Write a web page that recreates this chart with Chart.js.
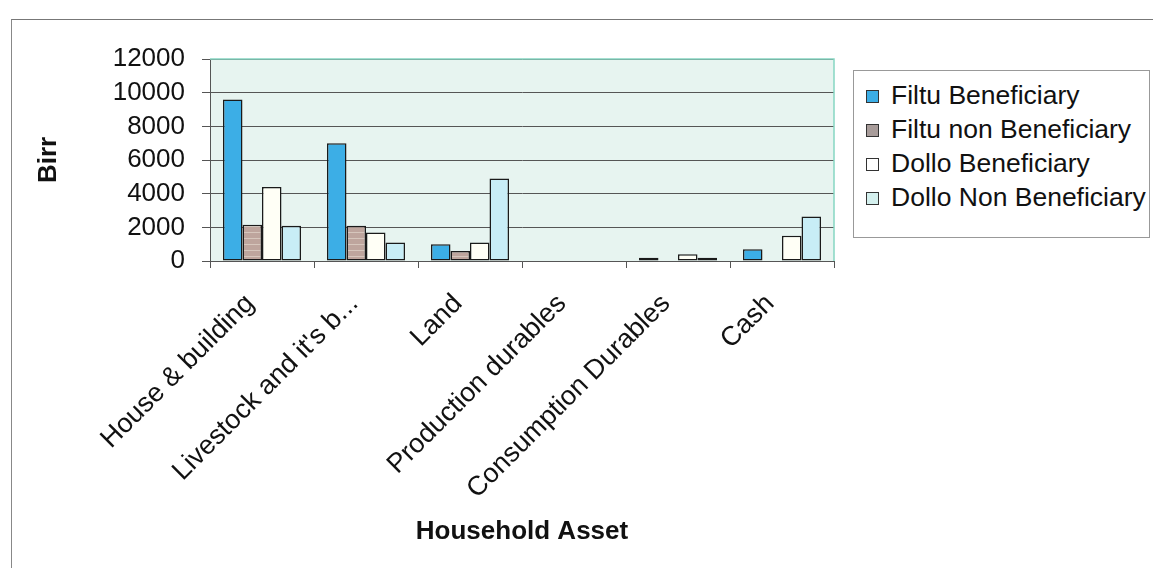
<!DOCTYPE html>
<html>
<head>
<meta charset="utf-8">
<script src="https://cdn.jsdelivr.net/npm/chart.js@4/dist/chart.umd.min.js"></script>
<style>
  body { margin: 0; background: #fff; font-family: "Liberation Sans", Arial, sans-serif; }
  #wrap { position: relative; width: 1153px; height: 568px; overflow: hidden; }
  #frame { position: absolute; left: 11px; top: 19px; right: 0; bottom: 0;
           border-top: 1px solid #777; border-left: 1px solid #888; }
  #chart { position: absolute; left: 0; top: 0; }
  #legend { position: absolute; left: 853px; top: 70px; width: 297px; height: 168px;
            border: 1px solid #999; box-sizing: border-box; background: #fff; }
  .item { position: absolute; left: 12px; font-size: 26.5px; color: #111; white-space: nowrap; line-height: 30px; }
  .sw { display: inline-block; width: 11px; height: 11px; border: 1px solid #333;
        margin-right: 12px; vertical-align: 1px; }
</style>
</head>
<body>
<div id="wrap">
  <div id="frame"></div>
  <canvas id="chart" width="1153" height="568"></canvas>
  <div id="legend"></div>
</div>
<script>
const categories = ["House & building", "Livestock and it's b...", "Land",
  "Production durables", "Consumption Durables", "Cash"];
const seriesNames = ["Filtu Beneficiary", "Filtu non Beneficiary", "Dollo Beneficiary", "Dollo Non Beneficiary"];
const filtuBeneficiary    = [9600, 7000, 1000, 0, 200, 700];
const filtuNonBeneficiary = [2150, 2100, 600, 0, 0, 0];
const dolloBeneficiary    = [4400, 1700, 1100, 0, 400, 1500];
const dolloNonBeneficiary = [2100, 1100, 4900, 0, 200, 2650];
const yTicks = [0, 2000, 4000, 6000, 8000, 10000, 12000];

// brownish striped fill like the scanned bars
function stripes() {
  const c = document.createElement('canvas');
  c.width = 8; c.height = 6;
  const g = c.getContext('2d');
  g.fillStyle = '#bea59d';
  g.fillRect(0, 0, 8, 6);
  g.fillStyle = '#d6c6bc';
  g.fillRect(0, 4, 8, 1);
  return g.createPattern(c, 'repeat');
}

const fills = ['#3caee6', stripes(), '#fffff6', '#c8edf6'];
const swatches = ['#3caee6', '#a89c9a', '#ffffff', '#d4f0ee'];
const values = [filtuBeneficiary, filtuNonBeneficiary, dolloBeneficiary, dolloNonBeneficiary];
const font = '"Liberation Sans", Arial, sans-serif';

const plotBg = {
  id: 'plotBg',
  beforeDraw(chart) {
    const {ctx, chartArea: a} = chart;
    ctx.save();
    ctx.fillStyle = '#e7f4f0';
    ctx.fillRect(a.left, a.top, a.right - a.left, a.bottom - a.top);
    ctx.restore();
  },
  afterDraw(chart) {
    const {ctx, chartArea: a} = chart;
    ctx.save();
    ctx.strokeStyle = '#86d6c2';
    ctx.lineWidth = 1.5;
    ctx.beginPath();
    ctx.moveTo(a.left, a.top);
    ctx.lineTo(a.right, a.top);
    ctx.lineTo(a.right, a.bottom);
    ctx.stroke();
    ctx.restore();
  }
};

const ctx = document.getElementById('chart').getContext('2d');
new Chart(ctx, {
  type: 'bar',
  data: {
    labels: categories,
    datasets: seriesNames.map((name, i) => ({
      label: name,
      data: values[i],
      backgroundColor: fills[i],
      borderColor: '#1a1a1a',
      borderWidth: 1.5,
      borderSkipped: false,
      barPercentage: 1.0,
      categoryPercentage: 0.75,
    })),
  },
  options: {
    responsive: false,
    animation: false,
    layout: { padding: { top: 59, right: 319, left: 0, bottom: 0 } },
    plugins: { legend: { display: false }, tooltip: { enabled: false } },
    scales: {
      x: {
        grid: { offset: true, drawOnChartArea: false, color: '#555', tickLength: 7 },
        border: { color: '#555' },
        ticks: { autoSkip: false, minRotation: 45, maxRotation: 45, color: '#111',
                 font: { size: 27, family: font }, padding: 20, labelOffset: -12 },
        title: { display: true, text: 'Household Asset', color: '#111',
                 font: { size: 26, weight: 'bold', family: font },
                 padding: { top: 0, bottom: 21 } },
        afterFit(s) { s.height = 307; },
      },
      y: {
        min: 0, max: 12000,
        afterBuildTicks(s) { s.ticks = yTicks.map(v => ({ value: v })); },
        grid: { color: '#555', tickLength: 8 },
        border: { color: '#555' },
        ticks: { autoSkip: false, color: '#111', padding: 17,
                 callback: v => String(v),
                 font: { size: 26, family: font } },
        title: { display: true, text: 'Birr', color: '#111',
                 font: { size: 26, weight: 'bold', family: font },
                 padding: { top: 33, bottom: 0 } },
        afterFit(s) { s.width = 210; },
      },
    },
  },
  plugins: [plotBg],
});

const legend = document.getElementById('legend');
seriesNames.forEach((name, i) => {
  const d = document.createElement('div');
  d.className = 'item';
  d.style.top = (9 + i * 34) + 'px';
  d.innerHTML = '<span class="sw" style="background:' + swatches[i] + '"></span>' + name;
  legend.appendChild(d);
});
</script>
</body>
</html>
